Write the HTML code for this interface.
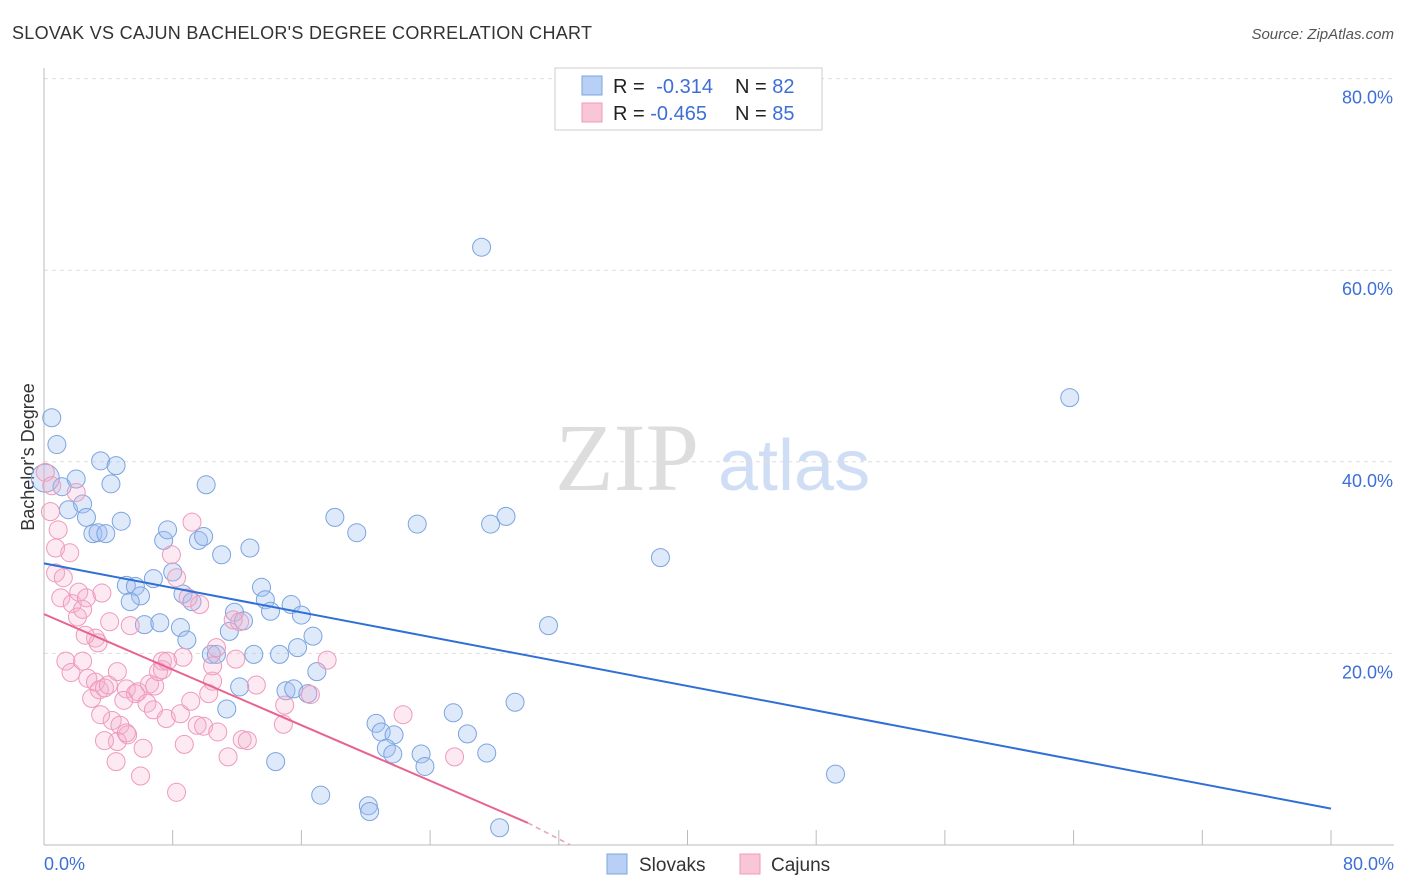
<!DOCTYPE html>
<html><head><meta charset="utf-8"><style>
body{margin:0;background:#fff;font-family:"Liberation Sans",sans-serif;}
svg{display:block}
</style></head><body>
<svg id="chart" width="1406" height="892" xmlns="http://www.w3.org/2000/svg">
<text x="12" y="39" font-size="18" fill="#333" textLength="580">SLOVAK VS CAJUN BACHELOR'S DEGREE CORRELATION CHART</text>
<text x="1394" y="39" font-size="15" fill="#555" font-style="italic" text-anchor="end">Source: ZipAtlas.com</text>
<text x="555" y="490" font-size="96" font-family="Liberation Serif,serif" fill="#ddd">ZIP</text>
<text x="718" y="490" font-size="72" fill="#d0def5">atlas</text>
<g id="grid"></g>
<line x1="44" y1="68" x2="44" y2="845" stroke="#bbb"/>
<line x1="44" y1="845" x2="1394" y2="845" stroke="#bbb"/>
<g id="xticks"></g>
<text transform="translate(34,457) rotate(-90)" font-size="18" fill="#333" text-anchor="middle">Bachelor's Degree</text>
<text x="44" y="870" font-size="18" fill="#3d6fd6">0.0%</text>
<text x="1394" y="870" font-size="18" fill="#3d6fd6" text-anchor="end">80.0%</text>
<g id="pts"></g>
<g id="trends"></g>
<g>
<rect x="555" y="68" width="267" height="62" fill="#fff" stroke="#ccc"/>
<rect x="582" y="76" width="20" height="19" fill="#b8d0f5" stroke="#7ba4e0"/>
<rect x="582" y="103" width="20" height="19" fill="#f9c6d6" stroke="#ef9abb"/>
<text x="613" y="93" font-size="20" fill="#222">R = <tspan fill="#3d6fd6" dx="6">-0.314</tspan></text>
<text x="735" y="93" font-size="20" fill="#222">N = <tspan fill="#3d6fd6">82</tspan></text>
<text x="613" y="120" font-size="20" fill="#222">R = <tspan fill="#3d6fd6">-0.465</tspan></text>
<text x="735" y="120" font-size="20" fill="#222">N = <tspan fill="#3d6fd6">85</tspan></text>
</g>
<g>
<rect x="607" y="854" width="20" height="20" fill="#b8d0f5" stroke="#7ba4e0"/>
<text x="639" y="871" font-size="19" fill="#333">Slovaks</text>
<rect x="740" y="854" width="20" height="20" fill="#f9c6d6" stroke="#ef9abb"/>
<text x="771" y="871" font-size="19" fill="#333">Cajuns</text>
</g>
</svg>
<script>
const yTicks=[20,40,60,80];
const yTickLabels=["20.0%","40.0%","60.0%","80.0%"];
const xTicks=[10,20,30,40,50,60,70,80,90,100];
const slovakX=[0.6,1.0,0.1,1.4,2.5,1.9,3.0,3.3,3.8,4.2,4.8,4.4,5.6,5.2,6.0,9.3,9.6,12.0,12.4,12.6,13.8,16.0,6.4,7.1,7.5,6.7,8.5,7.8,9.0,10.0,10.8,11.5,10.6,11.1,13.0,13.4,14.4,14.8,15.5,14.2,15.2,16.9,17.2,17.6,16.3,18.3,19.2,20.0,19.7,20.9,21.2,18.8,19.4,20.5,18.0,21.5,22.6,24.3,29.0,34.0,34.7,35.9,39.2,47.9,79.7,61.5,25.8,26.2,27.2,26.6,27.1,29.3,29.6,31.8,32.9,34.4,36.6,25.2,25.3,35.4];
const slovakY=[44.6,41.8,38.3,37.4,38.2,35.0,35.6,34.2,32.5,32.6,32.5,40.1,39.6,37.7,33.8,31.8,32.9,31.8,32.2,37.6,30.3,31.0,27.1,27.0,26.0,25.4,27.8,23.0,23.2,28.5,26.2,25.4,22.7,21.4,19.9,19.9,22.3,24.3,23.4,14.2,16.5,26.9,25.6,24.4,19.9,19.9,25.1,24.0,20.6,21.8,18.1,16.1,16.3,15.8,8.7,5.2,34.2,32.6,33.5,62.4,33.5,34.3,22.9,30.0,46.7,7.4,12.7,11.8,11.5,10.1,9.5,9.5,8.2,13.8,11.6,9.6,14.9,4.1,3.5,1.8];
const cajunX=[0.1,0.5,0.9,1.1,0.9,1.5,2.0,2.5,1.3,2.2,2.6,3.0,2.7,3.3,4.5,4.0,4.2,5.1,6.7,1.7,2.1,3.0,3.4,4.0,3.7,4.3,4.7,5.7,5.0,6.4,7.3,7.1,8.2,8.6,8.9,9.2,9.2,8.0,8.5,9.5,5.3,5.9,6.5,5.7,4.7,6.4,7.7,5.6,7.5,10.3,9.9,10.3,11.5,12.1,11.2,10.8,10.6,10.9,11.4,11.9,12.4,12.8,13.1,13.1,13.4,14.9,14.7,15.2,13.5,14.3,15.4,15.8,16.5,18.7,18.6,20.7,22.0,27.9,31.9,0.6,3.2,9.6,6.2,4.4];
const cajunY=[38.9,34.8,31.0,32.9,28.4,27.9,30.5,36.8,25.8,25.2,23.8,24.6,26.4,25.8,26.3,21.6,21.1,23.3,22.9,19.2,18.0,19.2,17.4,17.0,15.3,16.2,16.4,18.1,16.7,16.3,16.0,15.8,16.8,16.6,18.1,19.2,18.3,14.8,14.1,13.2,13.0,12.5,11.5,10.8,10.9,11.7,10.1,8.7,7.2,5.5,30.3,27.9,33.7,25.1,25.8,19.6,13.7,10.5,15.0,12.5,12.4,15.8,17.1,18.7,20.6,19.4,23.5,23.3,11.8,9.2,11.0,10.9,16.7,14.6,12.6,15.7,19.3,13.6,9.2,37.5,21.9,19.2,15.1,13.6];
const blueTrend=[[0,29.4],[100,3.8]];
const pinkTrend=[[0,24.1],[37.6,2.3]];
const pinkDash=[[37.6,2.3],[40.9,0]];

const NS="http://www.w3.org/2000/svg";
const sx=v=>44+v*12.87, sy=v=>845-v*9.58;
function mk(tag,attrs,parent){const e=document.createElementNS(NS,tag);for(const k in attrs)e.setAttribute(k,attrs[k]);document.getElementById(parent).appendChild(e);return e;}
yTicks.forEach((t,i)=>{
 const l=mk('line',{x1:44,x2:1394,y1:sy(t),y2:sy(t),stroke:'#ddd','stroke-dasharray':'4,4'},'grid');
 
 
 const tx=mk('text',{x:1393,y:sy(t)+25,'font-size':18,fill:'#3d6fd6','text-anchor':'end'},'grid');
 tx.textContent=yTickLabels[i];
 
 
});
xTicks.forEach(t=>{
 const l=mk('line',{x1:sx(t),x2:sx(t),y1:830,y2:845,stroke:'#bbb'},'xticks');
 
 
});
slovakX.forEach((x,i)=>{
 const c=mk('circle',{cx:sx(x),cy:sy(slovakY[i]),r:(i===2?14:9),fill:'rgba(160,192,240,0.35)',stroke:'#7ba4e0','stroke-width':1},'pts');
 
 
});
cajunX.forEach((x,i)=>{
 const c=mk('circle',{cx:sx(x),cy:sy(cajunY[i]),r:9,fill:'rgba(245,175,205,0.28)',stroke:'#ef9abb','stroke-width':1},'pts');
 
 
});
const b=mk('line',{x1:sx(blueTrend[0][0]),y1:sy(blueTrend[0][1]),x2:sx(blueTrend[1][0]),y2:sy(blueTrend[1][1]),stroke:'#2f6fd6','stroke-width':2},'trends');


const p=mk('line',{x1:sx(pinkTrend[0][0]),y1:sy(pinkTrend[0][1]),x2:sx(pinkTrend[1][0]),y2:sy(pinkTrend[1][1]),stroke:'#e8648f','stroke-width':2},'trends');


const pd=mk('line',{x1:sx(pinkDash[0][0]),y1:sy(pinkDash[0][1]),x2:sx(pinkDash[1][0]),y2:sy(pinkDash[1][1]),stroke:'#e8a0b8','stroke-width':1.5,'stroke-dasharray':'5,4'},'trends');


</script>
</body></html>
